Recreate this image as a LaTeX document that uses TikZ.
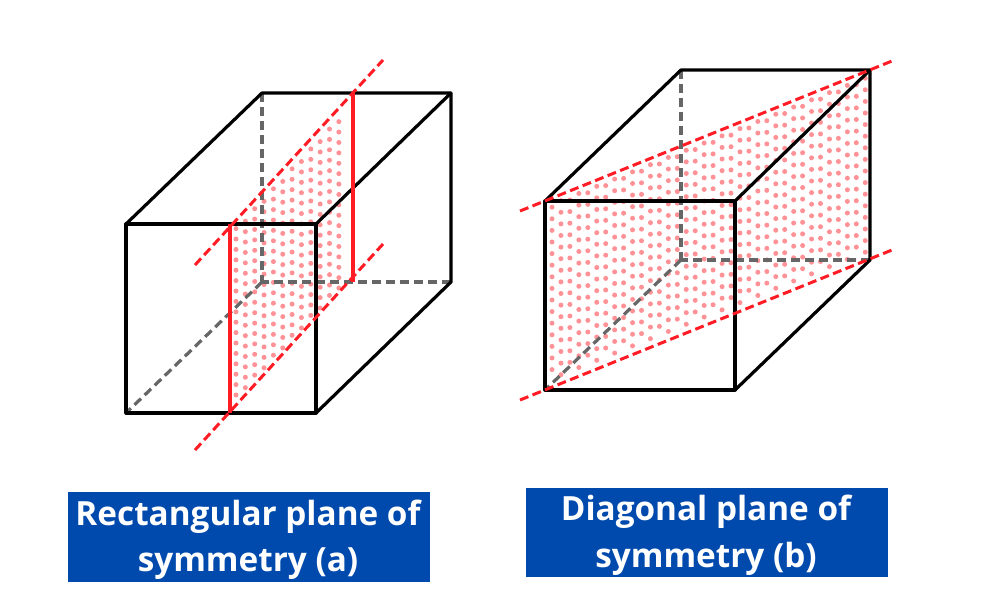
\documentclass[tikz,border=0pt]{standalone}
\usepackage{fontspec}
\setmainfont{Open Sans}
\definecolor{capblue}{HTML}{004AAD}
\definecolor{dotpink}{HTML}{FF9296}
\definecolor{planered}{HTML}{FF1C24}
\definecolor{hidgray}{HTML}{666666}
\tikzset{
  edgeline/.style={black,line width=3.2pt,line cap=round,line join=round},
  hiddenline/.style={hidgray,line width=3.2pt,dash pattern=on 9pt off 5pt},
  planeline/.style={planered,line width=3.2pt},
  planedash/.style={planered,line width=3pt,dash pattern=on 9pt off 4.5pt},
  captionbox/.style={text=white,inner sep=0pt,align=center,
    minimum width=362pt,minimum height=90pt,
    font=\fontsize{33.3}{46.5}\selectfont\bfseries}
}
\begin{document}
\begin{tikzpicture}[x=1pt,y=-1pt]
\useasboundingbox (0,0) rectangle (1000,600);
\fill[white] (0,0) rectangle (1000,600);

% ---------- left block ----------
\coordinate (af1) at (126,224); \coordinate (af2) at (316,224);
\coordinate (af3) at (316,413); \coordinate (af4) at (126,413);
\coordinate (ab1) at (262,93);  \coordinate (ab2) at (451,93);
\coordinate (ab3) at (451,282); \coordinate (ab4) at (262,282);
\coordinate (ap1) at (230,224); \coordinate (ap2) at (353,93);
\coordinate (ap3) at (353,282); \coordinate (ap4) at (230,413);
\coordinate (al1) at (195,265); \coordinate (al2) at (383,60);
\coordinate (al3) at (195,450); \coordinate (al4) at (383,244);

\foreach \i in {0,...,11}{
  \foreach \j in {0,...,17}{
    \pgfmathsetmacro{\px}{236+\i*9.35}
    \pgfmathsetmacro{\py}{224-(\px-230)*1.065+11+\j*10.4+0.25*mod(\i,2)*10.4}
    \pgfmathsetmacro{\lim}{413-(\px-230)*1.065-5}
    \ifdim \py pt<\lim pt
      \fill[dotpink] (\px,\py) circle[radius=2.5pt];
    \fi
  }
}

\draw[hiddenline] (ab1) -- (ab4);
\draw[hiddenline] (ab3) -- (ab4);
\draw[hiddenline] (ab4) -- (af4);
\draw[edgeline] (af1) -- (af2) -- (af3) -- (af4) -- cycle;
\draw[edgeline] (af1) -- (ab1) -- (ab2) -- (ab3) -- (af3);
\draw[edgeline] (af2) -- (ab2);
\draw[planeline] (ap1) -- (ap4);
\draw[planeline] (ap2) -- (ap3);
\draw[planedash] (al1) -- (al2);
\draw[planedash] (al3) -- (al4);

% ---------- right block ----------
\coordinate (bf1) at (545,201); \coordinate (bf2) at (735,201);
\coordinate (bf3) at (735,390); \coordinate (bf4) at (545,390);
\coordinate (bb1) at (681,70);  \coordinate (bb2) at (870,70);
\coordinate (bb3) at (870,260); \coordinate (bb4) at (681,260);
\coordinate (bl1) at (520,211); \coordinate (bl2) at (892,61);
\coordinate (bl3) at (520,400); \coordinate (bl4) at (892,250);

\foreach \i in {0,...,35}{
  \foreach \j in {0,...,17}{
    \pgfmathsetmacro{\px}{552+\i*8.95}
    \pgfmathsetmacro{\py}{201-(\px-545)*0.4025+9+\j*11.6-0.25*mod(\i,2)*11.6}
    \pgfmathsetmacro{\lim}{390-(\px-545)*0.4025-6}
    \ifdim \py pt<\lim pt
      \fill[dotpink] (\px,\py) circle[radius=2.5pt];
    \fi
  }
}

\draw[hiddenline] (bb1) -- (bb4);
\draw[hiddenline] (bb3) -- (bb4);
\draw[hiddenline] (bb4) -- (bf4);
\draw[edgeline] (bf1) -- (bf2) -- (bf3) -- (bf4) -- cycle;
\draw[edgeline] (bf1) -- (bb1) -- (bb2) -- (bb3) -- (bf3);
\draw[edgeline] (bf2) -- (bb2);
\draw[planedash] (bl1) -- (bl2);
\draw[planedash] (bl3) -- (bl4);

% ---------- captions ----------
\fill[capblue] (68,492) rectangle (430,582);
\fill[capblue] (526,488) rectangle (888,577);
\node[captionbox] (capa) at (248,539.5) {Rectangular plane of\\symmetry (a)};
\node[captionbox] (capb) at (706,535) {Diagonal plane of\\symmetry (b)};
\end{tikzpicture}
\end{document}
